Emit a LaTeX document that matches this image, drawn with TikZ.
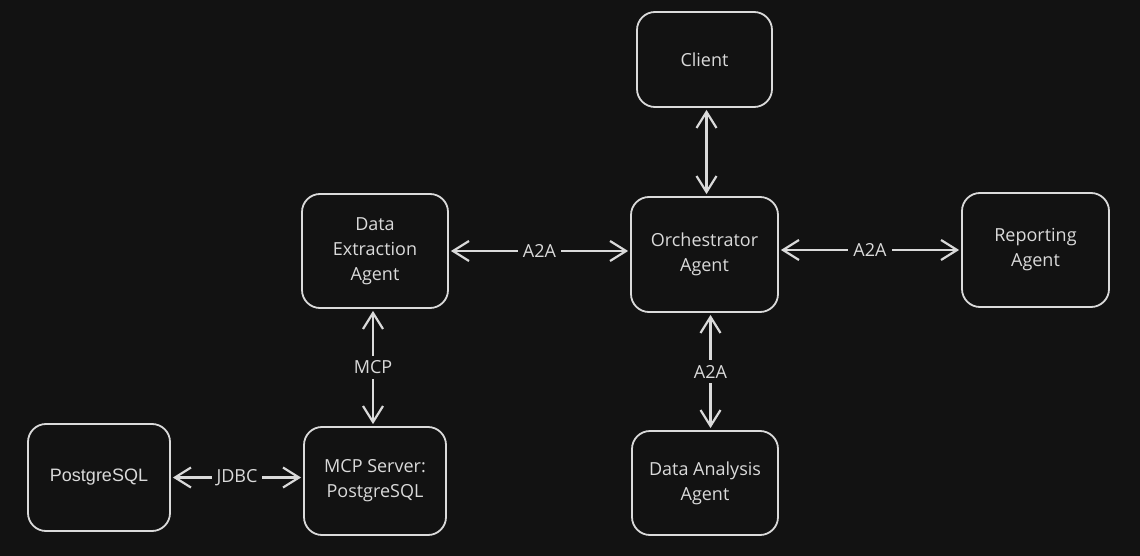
\documentclass[tikz,border=0pt]{standalone}
\usepackage{fontspec}
\setmainfont{Open Sans}
\newfontfamily\plainsans{Liberation Sans}
\usetikzlibrary{arrows.meta}
\definecolor{bg}{HTML}{121212}
\definecolor{ink}{HTML}{DADADA}
\tikzset{
  box/.style={draw=ink, line width=1.8pt, rounded corners=18pt, fill=bg, text=ink,
    align=center, font=\fontsize{18}{25}\selectfont, inner sep=0pt},
  link/.style={draw=ink, line width=2.2pt, {Straight Barb[length=16pt,width=20pt,line width=2.2pt]}-{Straight Barb[length=16pt,width=20pt,line width=2.2pt]}, shorten <=2pt, shorten >=2pt},
  lbl/.style={fill=bg, text=ink, font=\fontsize{18}{20}\selectfont, inner sep=5pt}
}
\begin{document}
\begin{tikzpicture}[x=1pt,y=-1pt]
\fill[bg] (0,0) rectangle (1140,556);
\useasboundingbox (0,0) rectangle (1140,556);
\node[box, minimum width=135pt, minimum height=95pt] (client) at (704.5,59.5) {Client};
\node[box, minimum width=146pt, minimum height=114pt] (dea) at (375,251) {Data\\Extraction\\Agent};
\node[box, minimum width=147pt, minimum height=115pt] (orch) at (704.5,254.5) {Orchestrator\\Agent};
\node[box, minimum width=147pt, minimum height=114pt] (rep) at (1035.5,250) {Reporting\\Agent};
\node[box, minimum width=146pt, minimum height=104pt] (da) at (705,483) {Data Analysis\\Agent};
\node[box, minimum width=142pt, minimum height=107pt, font=\plainsans\fontsize{18}{22}\selectfont] (pg) at (99,477.5) {PostgreSQL};
\node[box, minimum width=142pt, minimum height=108pt] (mcp) at (375,481) {MCP Server:\\PostgreSQL};

\draw[link] ([xshift=2pt]client.south) -- ([xshift=2pt]orch.north);
\draw[link] (dea.east) -- node[lbl] {A2A} (dea.east -| orch.west);
\draw[link] (rep.west -| orch.east) -- node[lbl] {A2A} (rep.west);
\draw[link] ([xshift=6pt]orch.south) -- node[lbl] {A2A} ([xshift=6pt]orch.south |- da.north);
\draw[link] ([xshift=-2pt]dea.south) -- node[lbl] {MCP} ([xshift=-2pt]dea.south |- mcp.north);
\draw[link] (pg.east) -- node[lbl] {JDBC} (pg.east -| mcp.west);
\end{tikzpicture}
\end{document}
